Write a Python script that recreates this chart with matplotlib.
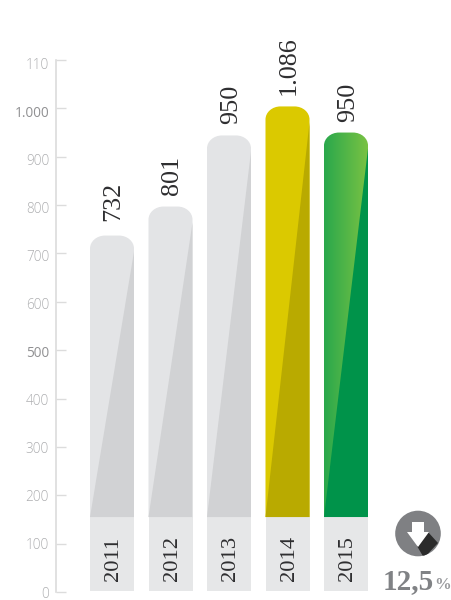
import numpy as np
import matplotlib
matplotlib.use("Agg")
import matplotlib.pyplot as plt
from matplotlib.path import Path
from matplotlib.patches import PathPatch, Polygon, Rectangle, Circle
from matplotlib.colors import LinearSegmentedColormap
from matplotlib.transforms import ScaledTranslation

years = ["2011", "2012", "2013", "2014", "2015"]
bar_tops = [737, 797, 944, 1004, 950]
value_labels = ["732", "801", "950", "1.086", "950"]
label_gaps_px = [15, 12, 11, 11, 11]
base_value = 155
floor_value = 2
y_ticks = [0, 100, 200, 300, 400, 500, 600, 700, 800, 900, 1000, 1100]
y_tick_labels = ["0", "100", "200", "300", "400", "500", "600", "700", "800", "900", "1.000", "110"]
strong_ticks = ["500", "1.000"]
change_text = "12,5"

W, H = 452, 600
fig = plt.figure(figsize=(W / 100, H / 100), dpi=100, facecolor="white")
ax = fig.add_axes([56 / W, 1 - 592 / H, (W - 56) / W, (592 - 60) / H])
px_x = 58.5
ax.set_xlim((56 - 112) / px_x, (W - 112) / px_x)
ax.set_ylim(0, 1100)
px_y = 532 / 1100
ax.set_facecolor("none")

for s in ["top", "right", "bottom"]:
    ax.spines[s].set_visible(False)
ax.spines["left"].set_color("#dcdcdc")
ax.spines["left"].set_linewidth(1.2)
ax.set_xticks([])
ax.set_yticks(y_ticks)
ax.set_yticklabels(y_tick_labels)
ax.tick_params(axis="y", direction="in", length=7.5, width=1.0, color="#dcdcdc", pad=5)
for tick_value, lab in zip(y_ticks, ax.get_yticklabels()):
    strong = lab.get_text() in strong_ticks
    lab.set_family(["Open Sans", "DejaVu Sans"])
    lab.set_fontsize(9.8)
    lab.set_color("#909092" if strong else "#aeafb1")
    lab.set_fontweight("normal" if strong else "light")
    shift = -(3.5 * tick_value / 1100) / 100
    lab.set_transform(lab.get_transform() + ScaledTranslation(0, shift, fig.dpi_scale_trans))

serif = ["Liberation Serif"]
bw = 44 / px_x
rx, ry = 15 / px_x, 13 / px_y
base_col = "#e6e7e8"
light = ["#e3e4e6", "#e3e4e6", "#e3e4e6", "#dbc900", None]
dark = ["#d1d2d4", "#d1d2d4", "#d1d2d4", "#b9aa00", "#00934a"]
green = LinearSegmentedColormap.from_list("g", ["#2aa84c", "#79c243"])
K = 0.5523

for i, (yr, top, lab, gap) in enumerate(zip(years, bar_tops, value_labels, label_gaps_px)):
    l, r = i - bw / 2, i + bw / 2
    ax.add_patch(Rectangle((l, floor_value), bw, base_value - floor_value, fc=base_col, ec="none", zorder=2))
    verts = [(l, base_value), (l, top - ry),
             (l, top - ry + K * ry), (l + rx - K * rx, top), (l + rx, top),
             (r - rx, top),
             (r - rx + K * rx, top), (r, top - ry + K * ry), (r, top - ry),
             (r, base_value), (l, base_value)]
    codes = [Path.MOVETO, Path.LINETO, Path.CURVE4, Path.CURVE4, Path.CURVE4,
             Path.LINETO, Path.CURVE4, Path.CURVE4, Path.CURVE4, Path.LINETO, Path.CLOSEPOLY]
    shape = PathPatch(Path(verts, codes), ec="none", zorder=3,
                      fc=light[i] if light[i] else "none")
    ax.add_patch(shape)
    if light[i] is None:
        im = ax.imshow(np.linspace(0, 1, 64).reshape(1, -1), extent=(l, r, base_value, top),
                       cmap=green, aspect="auto", zorder=3)
        im.set_clip_path(shape)
    ax.add_patch(Polygon([(l, base_value), (r, top - 16 / px_y), (r, base_value)],
                         fc=dark[i], ec="none", zorder=4))
    ax.annotate(yr, (i, floor_value), xytext=(1.2, 7.5), textcoords="offset points",
                rotation=90, ha="center", va="bottom", fontsize=16.2, family=serif,
                color="#2e2e30", zorder=5)
    ax.annotate(lab, (i, top), xytext=(1.2, gap * 0.72), textcoords="offset points",
                rotation=90, ha="center", va="bottom", fontsize=18.8, family=serif,
                color="#2e2e30", zorder=5)
ax.set_xlim((56 - 112) / px_x, (W - 112) / px_x)
ax.set_ylim(0, 1100)

# down-arrow badge, drawn on a pixel-scaled overlay
ov = fig.add_axes([0, 0, 1, 1], facecolor="none")
ov.set_xlim(0, W)
ov.set_ylim(H, 0)
ov.axis("off")
disc = Circle((418, 533.5), 22.8, fc="#7f8083", ec="none", zorder=1)
ov.add_patch(disc)
shadow = Polygon([(417, 546), (428, 532), (438, 543), (424, 558)],
                 fc="#2b2b2b", ec="none", zorder=2)
ov.add_patch(shadow)
shadow.set_clip_path(disc)
ov.add_patch(Polygon([(412, 522), (424, 522), (424, 532), (429, 532), (418, 547), (407, 532), (412, 532)],
                     fc="white", ec="none", zorder=3))
ov.text(383, 589, change_text, fontsize=21, fontweight="bold", family=serif,
        color="#808285", ha="left", va="baseline")
ov.text(434, 589, "%", fontsize=12, family=serif, fontweight="bold",
        color="#9a9b9e", ha="left", va="baseline")

fig.savefig("out.png", dpi=100, facecolor="white")
